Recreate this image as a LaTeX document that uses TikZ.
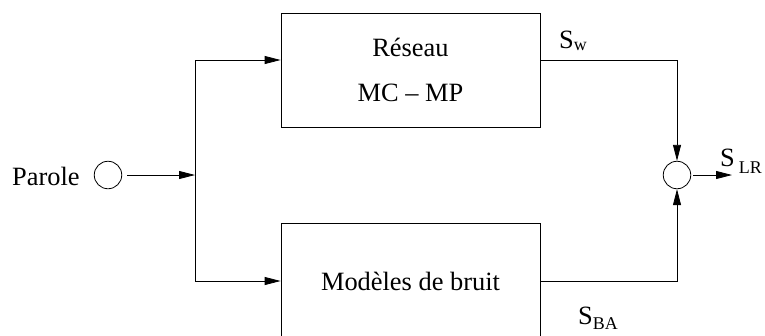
\documentclass[tikz,border=0pt]{standalone}
\usepackage{fontspec}
\setmainfont{Liberation Serif}
\usetikzlibrary{arrows.meta}
\begin{document}
\begin{tikzpicture}[x=1bp,y=-1bp,
  every node/.style={font=\fontsize{26.5}{30}\selectfont, inner sep=0pt},
  blk/.style={draw, line width=0.8bp, minimum width=259bp},
  sumc/.style={draw, circle, line width=0.8bp, minimum size=27.5bp},
  wire/.style={line width=0.8bp},
  arr/.style={wire, -{Triangle[length=16bp,width=8bp]}},
  lbl/.style={anchor=base west}]
\useasboundingbox (0,0) rectangle (765,335);
\clip (0,0) rectangle (765,335);
\node[blk, minimum height=114bp, align=center] (res) at (410.5,70) {Réseau\\[15pt]MC \textendash\ MP};
\node[blk, minimum height=116bp] (bru) at (410.5,281) {Modèles de bruit};
\node[sumc] (in) at (108,175) {};
\node[sumc] (sum) at (677,175) {};
\node[lbl] (parole) at (12,185) {Parole};
\coordinate (j) at (195,175);
\coordinate (out) at (732,175);
\draw[arr, shorten <=5bp] (in.east) -- (j);
\draw[arr] (j) |- ([yshift=10bp]res.west);
\draw[arr] (j) |- (bru.west);
\draw[arr] ([yshift=10bp]res.east) -| (sum.north);
\draw[arr] (bru.east) -| (sum.south);
\draw[arr, shorten <=2bp] (sum.east) -- (out);
\node[lbl] (sw) at (559,48) {S\raisebox{-2.5bp}{\fontsize{18}{18}\selectfont w}};
\node[lbl] (sba) at (578,324) {S\raisebox{-5bp}{\fontsize{18}{18}\selectfont BA}};
\node[lbl] (slr) at (720,166) {S\hspace{4bp}\raisebox{-7bp}{\fontsize{18}{18}\selectfont LR}};
\end{tikzpicture}
\end{document}
